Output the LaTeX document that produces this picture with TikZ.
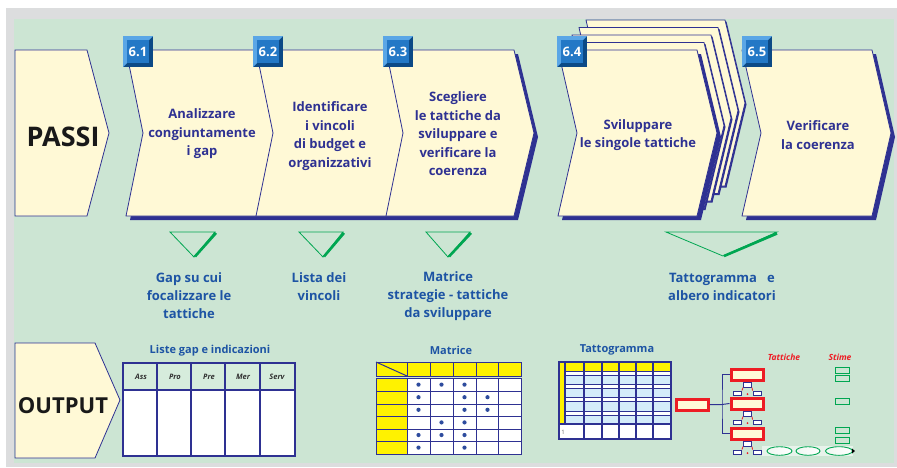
\documentclass[tikz,border=0pt]{standalone}
\usepackage{fontspec}
\setmainfont{Open Sans}
\usetikzlibrary{calc}

\definecolor{bgmint}{HTML}{CCE5D3}
\definecolor{framegrey}{HTML}{DCDDDE}
\definecolor{cream}{HTML}{FFF9D6}
\definecolor{navy}{HTML}{2E3192}
\definecolor{outblue}{HTML}{1D54A4}
\definecolor{badgemid}{HTML}{2378C6}
\definecolor{badgelight}{HTML}{5AA6E6}
\definecolor{badgedark}{HTML}{0C4A86}
\definecolor{outgreen}{HTML}{00A651}
\definecolor{tred}{HTML}{ED1C24}
\definecolor{tyellow}{HTML}{FFF200}
\definecolor{paleblue}{HTML}{D4ECFA}
\definecolor{headmint}{HTML}{D6ECDC}
\definecolor{dotblue}{HTML}{2E4C9E}

\tikzset{
  panel/.style={fill=cream, draw=navy, line width=0.8pt, line join=miter},
  steptext/.style={font=\fontsize{13}{18.5}\selectfont\bfseries, text=navy, align=center, inner sep=0pt},
  outtext/.style={font=\fontsize{13}{18}\selectfont\bfseries, text=outblue, align=center, inner sep=0pt},
  titletext/.style={font=\fontsize{11}{13}\selectfont\bfseries, text=outblue, inner sep=0pt},
  bigword/.style={font=\bfseries, text=black!90, inner sep=0pt},
  colhead/.style={font=\fontsize{7.5}{9}\selectfont\bfseries\itshape, text=black!80, inner sep=0pt},
  redhead/.style={font=\fontsize{8.5}{10}\selectfont\bfseries\itshape, text=tred, inner sep=0pt},
  tablegrid/.style={draw=navy, line width=1.2pt},
  thingrid/.style={draw=navy, line width=1pt},
  redbox/.style={draw=tred, line width=3pt, fill=cream, minimum width=32pt, minimum height=11pt, inner sep=0pt},
  leafbox/.style={draw=navy, line width=0.9pt, fill=white, minimum width=8pt, minimum height=4pt, inner sep=0pt},
  stimebox/.style={draw=outgreen, line width=0.9pt, minimum width=14pt, minimum height=6pt, inner sep=0pt},
  marker/.style={draw=outgreen, line width=0.8pt, line join=miter},
  markeredge/.style={draw=outgreen, line width=2.6pt},
  badgetext/.style={font=\fontsize{13}{13}\selectfont\bfseries, text=white, inner sep=0pt},
}

% bevelled square badge: #1,#2 top-left corner, #3 node name, #4 label
\newcommand{\stepbadge}[4]{%
  \begin{scope}[shift={(#1,#2)}]
    \fill[badgedark] (0,0) rectangle (30,31);
    \fill[badgelight] (0,0) -- (30,0) -- (26,4) -- (4,4) -- (4,27) -- (0,31) -- cycle;
    \fill[badgemid] (4,4) rectangle (26,27);
    \node[badgetext] (#3) at (15,15.5) {#4};
  \end{scope}}

\begin{document}
\begin{tikzpicture}[x=1pt, y=-1pt]
\useasboundingbox (0,0) rectangle (897,467);

% frame and background
\fill[framegrey] (6,8) rectangle (897,467);
\fill[bgmint] (14,19) rectangle (894,463);

% ---------- PASSI row ----------
\draw[panel] (15,50) -- (87,50) -- (109,133) -- (87,216) -- (15,216) -- cycle;
\node[bigword, font=\fontsize{27}{27}\selectfont\bfseries] (passi) at (63,137) {PASSI};

% steps 6.1 - 6.3
\fill[navy, shift={(4,4)}] (126,50) -- (514,50) -- (534,133) -- (514,216) -- (126,216) -- (143,133) -- cycle;
\draw[panel] (126,50) -- (514,50) -- (534,133) -- (514,216) -- (126,216) -- (143,133) -- cycle;
\draw[navy, line width=0.8pt] (256,50) -- (273,133) -- (256,216);
\draw[navy, line width=0.8pt] (386,50) -- (403,133) -- (386,216);

% step 6.4 with stacked sheets behind
\foreach \k in {4,3,2,1} {
  \begin{scope}[shift={(7*\k,-7.5*\k)}]
    \fill[navy, shift={(1.5,1.5)}] (558,50) -- (697,50) -- (717,133) -- (697,216) -- (558,216) -- (577,133) -- cycle;
    \draw[panel] (558,50) -- (697,50) -- (717,133) -- (697,216) -- (558,216) -- (577,133) -- cycle;
  \end{scope}
}
\fill[navy, shift={(4,4)}] (558,50) -- (697,50) -- (717,133) -- (697,216) -- (558,216) -- (577,133) -- cycle;
\draw[panel] (558,50) -- (697,50) -- (717,133) -- (697,216) -- (558,216) -- (577,133) -- cycle;

% step 6.5
\fill[navy, shift={(4,4)}] (742,50) -- (872,50) -- (891,133) -- (872,216) -- (742,216) -- (761,133) -- cycle;
\draw[panel] (742,50) -- (872,50) -- (891,133) -- (872,216) -- (742,216) -- (761,133) -- cycle;

% badges
\stepbadge{123}{36}{b61}{6.1}
\stepbadge{253}{36}{b62}{6.2}
\stepbadge{383}{36}{b63}{6.3}
\stepbadge{557}{36}{b64}{6.4}
\stepbadge{742}{36}{b65}{6.5}

% step texts
\node[steptext] (t61) at (202,134) {Analizzare\\congiuntamente\\i gap};
\node[steptext] (t62) at (330,136) {Identificare\\i vincoli\\di budget e\\organizzativi};
\node[steptext] (t63) at (458,134) {Scegliere\\le tattiche da\\sviluppare e\\verificare la\\coerenza};
\node[steptext] (t64) at (638,135) {Sviluppare\\le singole tattiche};
\node[steptext] (t65) at (818,135) {Verificare\\la coerenza};

% ---------- output markers ----------
\draw[marker] (170,232) -- (215,232) -- (194,257) -- cycle;
\draw[markeredge] (195,256.5) -- (216,233);
\draw[marker] (299,232) -- (343,232) -- (323,257) -- cycle;
\draw[markeredge] (324,256.5) -- (344,233);
\draw[marker] (426,232) -- (470,232) -- (448,257) -- cycle;
\draw[markeredge] (449,256.5) -- (471,233);
\draw[marker] (666,232) -- (777,232) -- (723,256) -- cycle;
\draw[markeredge] (724,256) -- (777,233.5);

\node[outtext] (o1) at (189,296) {Gap su cui\\focalizzare le\\tattiche};
\node[outtext] (o2) at (319,287) {Lista dei\\vincoli};
\node[outtext] (o3) at (448,296) {Matrice\\strategie - tattiche\\da sviluppare};
\node[outtext] (o4) at (722,287) {Tattogramma\ \ \ e\\albero indicatori};

% ---------- OUTPUT row ----------
\draw[panel] (15,343) -- (95,343) -- (120,400) -- (95,458) -- (15,458) -- cycle;
\node[bigword, font=\fontsize{22}{22}\selectfont\bfseries] (output) at (63,406) {OUTPUT};

% gap list table
\node[titletext] (lgtitle) at (210,351) {Liste gap e indicazioni};
\fill[headmint] (123,363) rectangle (295,390);
\fill[white] (123,390) rectangle (295,456);
\draw[tablegrid] (123,363) rectangle (295,456);
\draw[tablegrid] (123,390) -- (295,390);
\foreach \x in {157,191,225,260} \draw[tablegrid] (\x,363) -- (\x,456);
\node[colhead] (hass) at (141,376.5) {Ass};
\node[colhead] (hpro) at (175,376.5) {Pro};
\node[colhead] (hpre) at (209,376.5) {Pre};
\node[colhead] (hmer) at (243,376.5) {Mer};
\node[colhead] (hserv) at (277,376.5) {Serv};

% strategy / tactic matrix
\node[titletext] (mtitle) at (451,350) {Matrice};
\fill[tyellow] (376,362) rectangle (521,376);
\fill[tyellow] (376,378) rectangle (407,454);
\fill[white] (407,378) rectangle (521,454);
\draw[thingrid] (376,362) rectangle (521,376);
\draw[thingrid] (376,378) rectangle (521,454);
\draw[thingrid] (376,362) -- (407,376);
\foreach \x in {407,430,453,476,498} {
  \draw[thingrid] (\x,362) -- (\x,376);
  \draw[thingrid] (\x,378) -- (\x,454);
}
\foreach \y in {391,404,416.5,429,441.5} \draw[thingrid] (376,\y) -- (521,\y);
\foreach \c/\r in {1/1,2/1,3/1, 1/2,3/2,4/2, 1/3,3/3,4/3, 2/4,3/4, 1/5,2/5,3/5, 1/6,3/6}
  \fill[dotblue] ({395.5+23*\c},{372+12.6*\r}) circle[radius=2.1pt];

% tactic chart
\node[titletext] (ttitle) at (617,350) {Tattogramma};
\fill[white] (559,362) rectangle (671,439);
\fill[tyellow] (559,362) rectangle (565,424);
\fill[tyellow] (565,362) rectangle (671,371);
\foreach \a/\b in {375/384, 388/397.5, 401.5/411, 415/424}
  \fill[paleblue] (565,\a) rectangle (671,\b);
\draw[tablegrid] (559,362) rectangle (671,439);
\draw[tablegrid] (565,362) -- (565,424);
\foreach \y in {371,375,384,388,397.5,401.5,411,415} \draw[thingrid] (565,\y) -- (671,\y);
\draw[tablegrid] (559,424) -- (671,424);
\foreach \x in {584,602,619,636,653} \draw[tablegrid] (\x,362) -- (\x,439);
\node[font=\fontsize{6}{6}\selectfont, text=black!60, inner sep=0pt] (tmark) at (563,432) {1};

% indicator tree
\node[redbox] (root) at (692,404.5) {};
\node[redbox] (c1) at (747,374.5) {};
\node[redbox] (c2) at (747,403.5) {};
\node[redbox] (c3) at (747.5,433.5) {};
\coordinate (j) at (722,404.5);
\draw[navy, line width=1pt] (root.east) -- (j) -- (c2.west);
\draw[navy, line width=1pt] (c1.west) -| (j) |- (c3.west);
\foreach \c/\yc in {c1/374.5, c2/403.5, c3/433.5} {
  \node[leafbox, minimum height=5pt] (\c-top) at (747.5,\yc+10) {};
  \node[leafbox] (\c-left) at (737.5,\yc+18.5) {};
  \node[leafbox] (\c-right) at (757,\yc+18.5) {};
  \draw[tred, line width=0.8pt] (\c-top.south west) -- (\c-left.north east);
  \draw[tred, line width=0.8pt] (\c-top.south east) -- (\c-right.north west);
  \fill[tred] (747.5,\yc+19.5) circle[radius=1pt];
}

\node[redhead] (htatt) at (784,357) {Tattiche};
\node[redhead] (hstime) at (840,357) {Stime};
\foreach \n/\y in {s1/370.5, s2/378.5, s3/401.5, s4/430.5, s5/440}
  \node[stimebox] (\n) at (842.5,\y) {};

% estimate ovals
\fill[white!55!bgmint] (762,446) rectangle (853,456);
\draw[outgreen, line width=0.9pt, left color=white!70!bgmint, right color=white] (779.5,451) ellipse [x radius=12.5pt, y radius=4.3pt];
\draw[outgreen, line width=0.9pt, left color=white!70!bgmint, right color=white] (808,451) ellipse [x radius=12pt, y radius=4.3pt];
\draw[outgreen, line width=0.9pt, left color=white!70!bgmint, right color=white] (839,451) ellipse [x radius=13.5pt, y radius=4.3pt];
\fill[black] (852,448.5) -- (855,451) -- (852,453.5) -- cycle;

\end{tikzpicture}
\end{document}
